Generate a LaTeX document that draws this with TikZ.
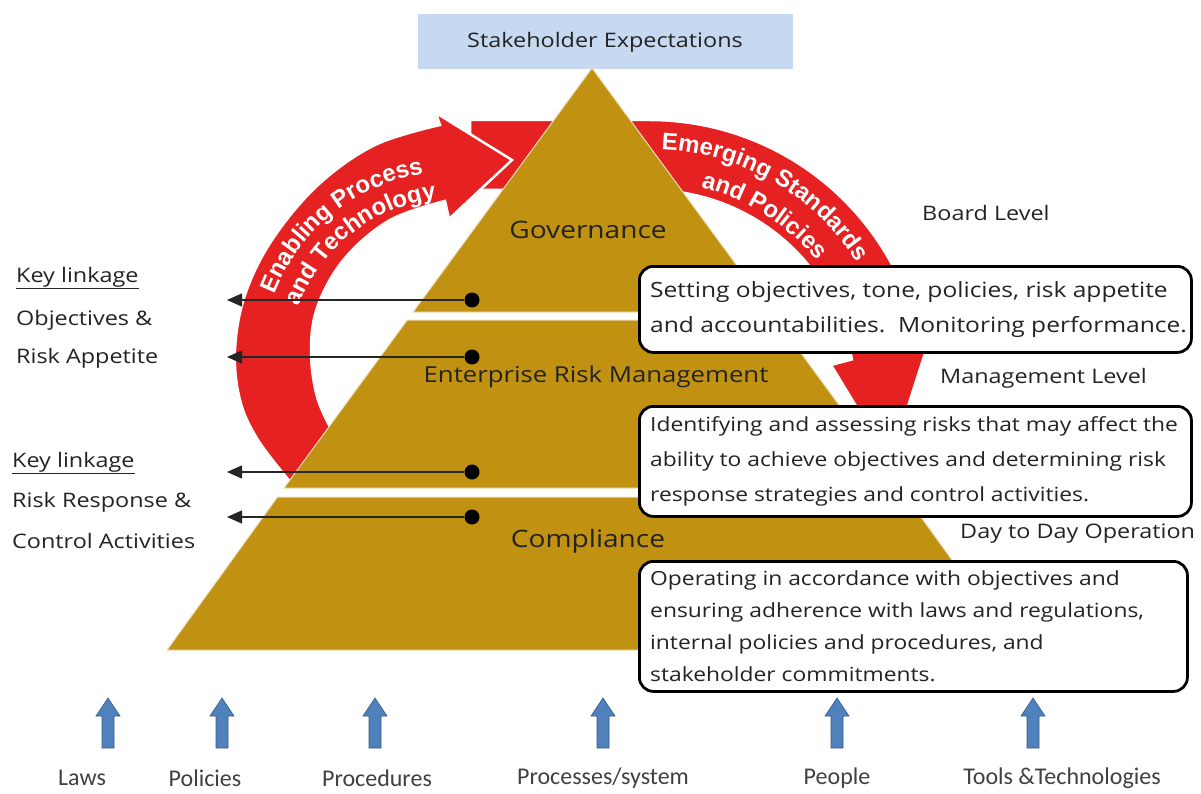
\documentclass[tikz,border=0pt]{standalone}
\usepackage{fontspec}
\setmainfont{Open Sans}[FakeStretch=1.17]
\newfontfamily\arrowsans{Liberation Sans}
\newfontfamily\condsans{Carlito}
\usetikzlibrary{arrows.meta,decorations.text}

\definecolor{pyrgold}{RGB}{193,145,18}
\definecolor{cyclered}{RGB}{230,33,33}
\definecolor{stakeblue}{RGB}{198,217,240}
\definecolor{inputblue}{RGB}{79,129,189}
\definecolor{inktext}{RGB}{35,35,35}

\newcommand\arrowtext{\arrowsans\bfseries\fontsize{24}{24}\selectfont}

\tikzset{
  band/.style={fill=pyrgold, draw=pyrgold!30!white, line width=1pt},
  redarrow/.style={fill=cyclered, draw=white, line width=2.5pt, line join=miter},
  level/.style={text=inktext, inner sep=0pt},
  lbl/.style={font=\fontsize{20}{20}\selectfont, text=inktext, inner sep=0pt, anchor=west},
  descbox/.style={draw=black, line width=2.8pt, rounded corners=14pt, fill=white, anchor=north west},
  desctxt/.style={text=inktext, align=left, inner sep=0pt, anchor=west},
  link/.style={draw=black!85, line width=1.3pt, -{Triangle[length=15pt,width=13pt]}},
  linkdot/.style={circle, fill=black, inner sep=0pt, minimum size=15pt},
  inputarrow/.style={fill=inputblue, draw=inputblue!70!black, line width=0.6pt},
  inputlbl/.style={font=\condsans\fontsize{24}{24}\selectfont, text=black!75, inner sep=0pt},
  curvetext/.style={decorate, decoration={text along path, text align=center, text color=white, text={|\arrowtext|#1}}}
}

\begin{document}
\begin{tikzpicture}[x=1pt,y=-1pt]
\useasboundingbox (0,0) rectangle (1201,794);

% stakeholder banner
\node[fill=stakeblue, minimum width=375pt, minimum height=55pt, inner sep=0pt,
      font=\fontsize{20}{20}\selectfont, text=inktext] (stake) at (605,42) {Stakeholder Expectations};

% red cycle arrows
\filldraw[redarrow] (470,120) -- (650,120)
  -- plot[domain=-90:-10, samples=40] ({650+275*cos(\x)},{395+275*sin(\x)})
  -- (928,344) -- (890,462) -- (831,365)
  -- plot[domain=-10:-90, samples=40] ({650+205*cos(\x)},{395+205*sin(\x)})
  -- (470,190) -- cycle;
\filldraw[redarrow] plot[smooth, tension=0.6] coordinates {(292,484) (258,440) (240,400) (235,350) (245,295) (272,240) (318,185) (375,145) (440,125)}
  -- (436,113) -- (512,160) -- (449,219)
  -- plot[smooth, tension=0.6] coordinates {(445,201) (390,220) (345,258) (318,305) (311,350) (318,400) (340,445)} -- cycle;

\path[curvetext={Enabling Process}] plot[domain=190:272, samples=40] ({455+194*cos(\x)},{365+194*sin(\x)});
\path[curvetext={and Technology}] plot[domain=190:274, samples=40] ({455+167*cos(\x)},{365+167*sin(\x)});
\path[curvetext={Emerging Standards}] plot[domain=-94:-26, samples=40] ({650+246*cos(\x)},{395+246*sin(\x)});
\path[curvetext={and Policies}] plot[domain=-87:-28, samples=40] ({650+214*cos(\x)},{395+214*sin(\x)});

% pyramid
\filldraw[band] (592,68) -- (770.9,312) -- (413.1,312) -- cycle;
\filldraw[band] (407.3,320) -- (776.7,320) -- (899.9,488) -- (284.1,488) -- cycle;
\filldraw[band] (277.5,497) -- (906.5,497) -- (1017,650) -- (167,650) -- cycle;

\node[level, font=\fontsize{24}{24}\selectfont] (gov) at (588,230) {Governance};
\node[level, font=\fontsize{22}{22}\selectfont] (erm) at (596,377) {Enterprise Risk Management};
\node[level, font=\fontsize{24}{24}\selectfont] (comp) at (588,541) {Compliance};

% key linkages
\node[linkdot] (d1) at (472,300) {};
\node[linkdot] (d2) at (472,357) {};
\node[linkdot] (d3) at (472,472) {};
\node[linkdot] (d4) at (472,517) {};
\coordinate (t1) at (227,300);
\coordinate (t2) at (227,357);
\coordinate (t3) at (227,472);
\coordinate (t4) at (227,517);
\foreach \i in {1,...,4} \draw[link] (d\i) -- (t\i);

\node[lbl] (kl1) at (16,278) {\underline{Key linkage}};
\node[lbl] (obj) at (16,320) {Objectives \&};
\node[lbl] (app) at (16,358) {Risk Appetite};
\node[lbl] (kl2) at (12,463) {\underline{Key linkage}};
\node[lbl] (resp) at (12,502) {Risk Response \&};
\node[lbl] (ctrl) at (12,541) {Control Activities};

% levels and descriptions
\node[lbl] (board) at (922,213) {Board Level};
\node[lbl] (mgmt) at (940,378) {Management Level};
\node[lbl] (daily) at (960,534) {Day to Day Operation};

\node[descbox, minimum width=552pt, minimum height=86pt] (setbox) at (638,265) {};
\node[desctxt, font=\fontsize{21}{35}\selectfont] (settxt) at ([xshift=12pt]setbox.west)
  {Setting objectives, tone, policies, risk appetite\\and accountabilities.\ \ Monitoring performance.};
\node[descbox, minimum width=552pt, minimum height=110pt] (idbox) at (638,405) {};
\node[desctxt, font=\fontsize{19.5}{35}\selectfont] (idtxt) at ([xshift=12pt]idbox.west)
  {Identifying and assessing risks that may affect the\\ability to achieve objectives and determining risk\\response strategies and control activities.};
\node[descbox, minimum width=548pt, minimum height=130pt] (opbox) at (638,560) {};
\node[desctxt, font=\fontsize{19.5}{32}\selectfont] (optxt) at ([xshift=12pt]opbox.west)
  {Operating in accordance with objectives and\\ensuring adherence with laws and regulations,\\internal policies and procedures, and\\stakeholder commitments.};

% inputs
\foreach \ax/\lx/\nm/\txt in {108/82/laws/Laws, 222/205/pol/Policies, 375/377/proc/Procedures,
    603/603/sys/{Processes/system}, 837/837/ppl/People, 1033/1062/tools/{Tools \&Technologies}} {
  \filldraw[inputarrow] (\ax-6,748) -- (\ax-6,716) -- (\ax-12,716) -- (\ax,698) -- (\ax+12,716) -- (\ax+6,716) -- (\ax+6,748) -- cycle;
  \node[inputlbl] (\nm) at (\lx,778) {\txt};
}
\end{tikzpicture}
\end{document}
